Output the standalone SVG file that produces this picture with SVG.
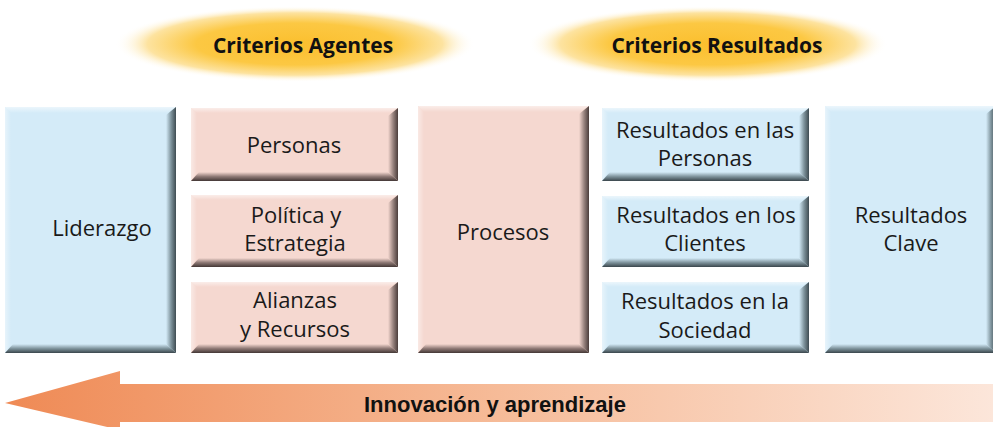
<svg xmlns="http://www.w3.org/2000/svg" width="993" height="427" viewBox="0 0 993 427">
<defs>
<radialGradient id="glow" cx="0.5" cy="0.5" r="0.5">
<stop offset="0" stop-color="#fbbf2e"/>
<stop offset="0.55" stop-color="#fcc843"/>
<stop offset="0.82" stop-color="#fde3a0"/>
<stop offset="1" stop-color="#ffffff" stop-opacity="0"/>
</radialGradient>
<linearGradient id="arrowGrad" x1="0" y1="0" x2="1" y2="0">
<stop offset="0" stop-color="#ef8a55"/>
<stop offset="0.5" stop-color="#f6bb98"/>
<stop offset="1" stop-color="#fce6da"/>
</linearGradient>
<linearGradient id="bRight" x1="0" y1="0" x2="1" y2="0">
<stop offset="0" stop-color="#d4ebf8"/>
<stop offset="0.5" stop-color="#7f949d"/>
<stop offset="1" stop-color="#3f4c52"/>
</linearGradient>
<linearGradient id="bBottom" x1="0" y1="0" x2="0" y2="1">
<stop offset="0" stop-color="#d4ebf8"/>
<stop offset="0.5" stop-color="#7f949d"/>
<stop offset="1" stop-color="#3a464c"/>
</linearGradient>
<linearGradient id="pRight" x1="0" y1="0" x2="1" y2="0">
<stop offset="0" stop-color="#f5d8d0"/>
<stop offset="0.5" stop-color="#9a8580"/>
<stop offset="1" stop-color="#4a3d3b"/>
</linearGradient>
<linearGradient id="pBottom" x1="0" y1="0" x2="0" y2="1">
<stop offset="0" stop-color="#f5d8d0"/>
<stop offset="0.5" stop-color="#8f7a76"/>
<stop offset="1" stop-color="#433735"/>
</linearGradient>
<linearGradient id="hlTop" x1="0" y1="0" x2="0" y2="1">
<stop offset="0" stop-color="#ffffff" stop-opacity="0.55"/>
<stop offset="1" stop-color="#ffffff" stop-opacity="0"/>
</linearGradient>
<linearGradient id="hlLeft" x1="0" y1="0" x2="1" y2="0">
<stop offset="0" stop-color="#ffffff" stop-opacity="0.45"/>
<stop offset="1" stop-color="#ffffff" stop-opacity="0"/>
</linearGradient>
</defs>
<style>
.blue{fill:#d4ebf8}
.pink{fill:#f5d8d0}
.lbl{font-family:"Open Sans","Liberation Sans",sans-serif;font-size:22px;fill:#1a1a1a;text-anchor:middle}
.head{font-family:"Open Sans","Liberation Sans",sans-serif;font-size:21px;font-weight:bold;fill:#111;text-anchor:middle}
.arrowTxt{font-family:"Liberation Sans",Arial,sans-serif;font-size:22px;font-weight:bold;fill:#111;text-anchor:middle}
</style>

<g id="criterios-agentes">
<ellipse cx="295" cy="44" rx="180" ry="38" fill="url(#glow)"/>
<text class="head" x="303" y="53">Criterios Agentes</text>
</g>
<g id="criterios-resultados">
<ellipse cx="708" cy="44" rx="180" ry="38" fill="url(#glow)"/>
<text class="head" x="717" y="53">Criterios Resultados</text>
</g>

<g id="liderazgo">
<rect class="blue" x="5" y="107" width="171" height="246"/>
<polygon points="5,107 176,107 167,113 11,113" fill="url(#hlTop)"/>
<polygon points="5,107 11,113 11,344 5,353" fill="url(#hlLeft)"/>
<polygon points="176,107 176,353 166,344 166,115" fill="url(#bRight)"/>
<polygon points="5,353 176,353 166,344 13,344" fill="url(#bBottom)"/>
<text class="lbl" x="102" y="236">Liderazgo</text>
</g>

<g id="personas">
<rect class="pink" x="191" y="108" width="207" height="73"/>
<polygon points="191,108 398,108 389,113 197,113" fill="url(#hlTop)"/>
<polygon points="191,108 197,113 197,172 191,181" fill="url(#hlLeft)"/>
<polygon points="398,108 398,181 388,172 388,116" fill="url(#pRight)"/>
<polygon points="191,181 398,181 388,172 199,172" fill="url(#pBottom)"/>
<text class="lbl" x="294" y="153">Personas</text>
</g>

<g id="politica-estrategia">
<rect class="pink" x="191" y="195" width="207" height="72"/>
<polygon points="191,195 398,195 389,200 197,200" fill="url(#hlTop)"/>
<polygon points="191,195 197,200 197,258 191,267" fill="url(#hlLeft)"/>
<polygon points="398,195 398,267 388,258 388,203" fill="url(#pRight)"/>
<polygon points="191,267 398,267 388,258 199,258" fill="url(#pBottom)"/>
<text class="lbl" x="296" y="223">Política y</text>
<text class="lbl" x="295" y="251">Estrategia</text>
</g>

<g id="alianzas-recursos">
<rect class="pink" x="191" y="282" width="207" height="71"/>
<polygon points="191,282 398,282 389,287 197,287" fill="url(#hlTop)"/>
<polygon points="191,282 197,287 197,344 191,353" fill="url(#hlLeft)"/>
<polygon points="398,282 398,353 388,344 388,290" fill="url(#pRight)"/>
<polygon points="191,353 398,353 388,344 199,344" fill="url(#pBottom)"/>
<text class="lbl" x="295" y="308">Alianzas</text>
<text class="lbl" x="295" y="337">y Recursos</text>
</g>

<g id="procesos">
<rect class="pink" x="418" y="106" width="171" height="247"/>
<polygon points="418,106 589,106 580,112 424,112" fill="url(#hlTop)"/>
<polygon points="418,106 424,112 424,344 418,353" fill="url(#hlLeft)"/>
<polygon points="589,106 589,353 579,344 579,114" fill="url(#pRight)"/>
<polygon points="418,353 589,353 579,344 426,344" fill="url(#pBottom)"/>
<text class="lbl" x="503" y="240">Procesos</text>
</g>

<g id="resultados-personas">
<rect class="blue" x="602" y="108" width="207" height="73"/>
<polygon points="602,108 809,108 800,113 608,113" fill="url(#hlTop)"/>
<polygon points="602,108 608,113 608,172 602,181" fill="url(#hlLeft)"/>
<polygon points="809,108 809,181 799,172 799,116" fill="url(#bRight)"/>
<polygon points="602,181 809,181 799,172 610,172" fill="url(#bBottom)"/>
<text class="lbl" x="705" y="138">Resultados en las</text>
<text class="lbl" x="705" y="166">Personas</text>
</g>

<g id="resultados-clientes">
<rect class="blue" x="602" y="196" width="207" height="71"/>
<polygon points="602,196 809,196 800,201 608,201" fill="url(#hlTop)"/>
<polygon points="602,196 608,201 608,258 602,267" fill="url(#hlLeft)"/>
<polygon points="809,196 809,267 799,258 799,204" fill="url(#bRight)"/>
<polygon points="602,267 809,267 799,258 610,258" fill="url(#bBottom)"/>
<text class="lbl" x="706" y="223">Resultados en los</text>
<text class="lbl" x="705" y="251">Clientes</text>
</g>

<g id="resultados-sociedad">
<rect class="blue" x="602" y="282" width="207" height="71"/>
<polygon points="602,282 809,282 800,287 608,287" fill="url(#hlTop)"/>
<polygon points="602,282 608,287 608,344 602,353" fill="url(#hlLeft)"/>
<polygon points="809,282 809,353 799,344 799,290" fill="url(#bRight)"/>
<polygon points="602,353 809,353 799,344 610,344" fill="url(#bBottom)"/>
<text class="lbl" x="705" y="309">Resultados en la</text>
<text class="lbl" x="705" y="338">Sociedad</text>
</g>

<g id="resultados-clave">
<rect class="blue" x="825" y="106" width="171" height="247"/>
<polygon points="825,106 996,106 987,112 831,112" fill="url(#hlTop)"/>
<polygon points="825,106 831,112 831,344 825,353" fill="url(#hlLeft)"/>
<polygon points="996,106 996,353 986,344 986,114" fill="url(#bRight)"/>
<polygon points="825,353 996,353 986,344 833,344" fill="url(#bBottom)"/>
<text class="lbl" x="911" y="223">Resultados</text>
<text class="lbl" x="911" y="251">Clave</text>
</g>

<g id="connectors">
<g id="innovacion-aprendizaje">
<polygon points="5,403 120,371 120,384 993,384 993,422 120,422 120,430" fill="url(#arrowGrad)"/>
<text class="arrowTxt" x="495" y="412" textLength="262" lengthAdjust="spacingAndGlyphs">Innovación y aprendizaje</text>
</g>
</g>
</svg>
